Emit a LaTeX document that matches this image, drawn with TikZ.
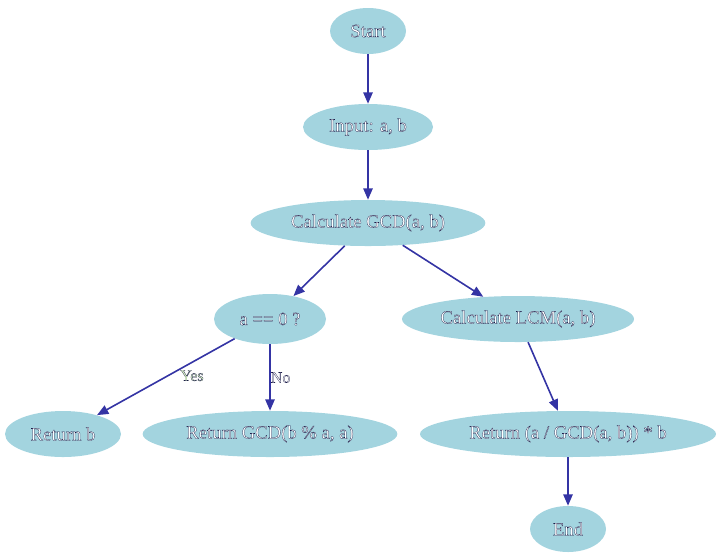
\documentclass[tikz,border=0pt]{standalone}
\usepackage{fontspec}
\setmainfont{Liberation Serif}
\usetikzlibrary{shapes.geometric,arrows.meta}
\definecolor{nodefill}{HTML}{A3D4DF}
\definecolor{edgeblue}{HTML}{3434A4}
\definecolor{yesgreen}{HTML}{D8F5C0}
% white letters with a thin dark rim
\newcommand\rimtext[1]{\special{pdf:literal direct 2 Tr 0.18 w 0.1 0.1 0.28 RG}#1\special{pdf:literal direct 0 Tr}}
\tikzset{
    flow/.style={ellipse, fill=nodefill, draw=none, inner sep=0pt,
    	minimum height=34.5pt, text=white, font=\fontsize{14}{16}\selectfont}
}
\tikzset{
    every edge/.append style={draw=edgeblue, line width=1.2pt,
    	-{Triangle[length=8.5pt,width=7pt]}}
}
\tikzset{
    lbl/.style={inner sep=0pt, font=\fontsize{12}{14}\selectfont}
}
\begin{document}
\begin{tikzpicture}[x=0.75pt,y=-0.75pt]
  \useasboundingbox (0,0) rectangle (720,558);
  \node (start) [flow, minimum width=57pt] at (368,31) {\rimtext{Start}};
  \node (input) [flow, minimum width=97.5pt] at (368,127) {\rimtext{Input: a, b}};
  \node (gcd) [flow, minimum width=176pt] at (368,223) {\rimtext{Calculate GCD(a, b)}};
  \node (azero) [flow, minimum width=84pt, minimum height=37.5pt] at (270,319) {\rimtext{a == 0 ?}};
  \node (lcm) [flow, minimum width=174pt] at (518,319) {\rimtext{Calculate LCM(a, b)}};
  \node (retb) [flow, minimum width=87pt] at (63,434) {\rimtext{Return b}};
  \node (retgcd) [flow, minimum width=191pt] at (270,434) {\rimtext{Return GCD(b \% a, a)}};
  \node (retlcm) [flow, minimum width=222pt] at (568,434) {\rimtext{Return (a / GCD(a, b)) * b}};
  \node (stop) [flow, minimum width=57pt] at (568,529) {\rimtext{End}};

  \draw (start) edge (input);
  \draw (input) edge (gcd);
  \draw (gcd) edge (azero);
  \draw (gcd) edge (lcm);
  \draw (azero) edge node [lbl, text=yesgreen, pos=.31, yshift=-10pt] {\rimtext{Yes}} (retb);
  \draw (azero) edge node [lbl, text=white, pos=.5, xshift=8pt] {\rimtext{No}} (retgcd);
  \draw (lcm) edge (retlcm);
  \draw (retlcm) edge (stop);
\end{tikzpicture}
\end{document}
